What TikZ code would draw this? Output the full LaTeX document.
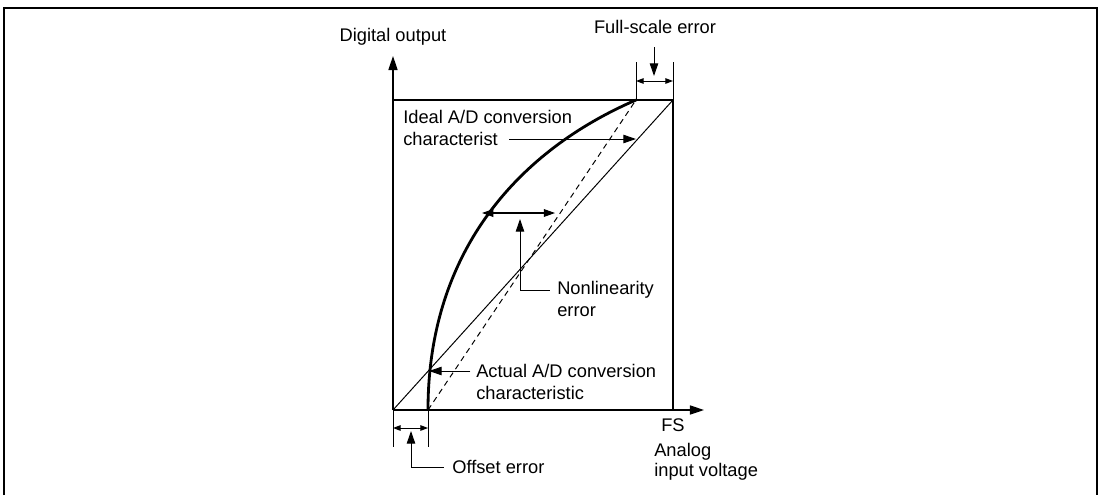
\documentclass[tikz,border=0pt]{standalone}
\usepackage{fontspec}
\setmainfont{Liberation Sans}
\usetikzlibrary{arrows.meta,positioning}

\tikzset{
  thickline/.style={line width=2pt},
  thinline/.style={line width=0.7pt},
  axisarrow/.style={line width=0.8pt,-{Triangle[length=10pt,width=6.5pt]}},
  bigdim/.style={line width=0.8pt,{Triangle[length=8pt,width=5.5pt]}-{Triangle[length=8pt,width=5.5pt]}},
  smalldim/.style={line width=0.7pt,{Triangle[length=5.5pt,width=4pt]}-{Triangle[length=5.5pt,width=4pt]}},
  leadarrow/.style={line width=0.7pt,-{Triangle[length=9pt,width=6pt]}},
  lbl/.style={inner sep=0pt,font=\fontsize{13}{15.6}\selectfont},
}

\begin{document}
\begin{tikzpicture}[x=0.025cm,y=-0.025cm]
\useasboundingbox (0,0) rectangle (1101,495);
% outer frame
\draw[line width=2pt] (4,495) -- (4,8) -- (1097,8) -- (1097,495);

% main points
\coordinate (O) at (393,410);
\coordinate (Ytip) at (393,56);
\coordinate (Xtip) at (704,410);
\coordinate (Ytop) at (393,100);
\coordinate (FStop) at (673,100);
\coordinate (FSbot) at (673,410);
\coordinate (Astart) at (428,410);
\coordinate (Aend) at (636,100);

% axes
\draw[axisarrow] (O) -- (Ytip);
\draw[axisarrow] (O) -- (Xtip);
\node[lbl] (yname) at (393,37) {Digital output};
\node[lbl] (fs) at (673,425) {FS};
\node[lbl,anchor=west] (xnameA) at (654,452) {Analog};
\node[lbl,anchor=west] (xnameB) at (654,472) {input voltage};

% full scale box
\draw[thickline] (Ytop) -- (FStop) -- (FSbot);

% characteristics
\draw[thinline] (O) -- (FStop);
\draw[thinline,dash pattern=on 4pt off 3pt] (Astart) -- (Aend);
\draw[thickline] (Astart) .. controls (428,250) and (520,150) .. (Aend);

% full-scale error
\coordinate (fsL) at (636,62);
\coordinate (fsR) at (673,62);
\draw[thinline] (Aend) -- (fsL);
\draw[thinline] (FStop) -- (fsR);
\draw[smalldim] (636,81) -- (673,81);
\node[lbl] (fserr) at (655,27) {Full-scale error};
\coordinate (fsarrow) at (654,76);
\draw[leadarrow] (fsarrow |- 0,47) -- (fsarrow);

% ideal label
\node[lbl,anchor=west] (idealA) at (403,117) {Ideal A/D conversion};
\node[lbl,anchor=west] (idealB) at (403,139) {characterist};
\draw[leadarrow] ([xshift=8pt]idealB.east) -- (idealB.east -| Aend);

% nonlinearity error
\coordinate (nlL) at (482,213);
\coordinate (nlR) at (555,213);
\draw[bigdim] (nlL) -- (nlR);
\node[lbl,anchor=west] (nlA) at (557,290) {Nonlinearity};
\node[lbl,anchor=west] (nlB) at (557,312) {error};
\coordinate (nlfoot) at (520,290);
\draw[leadarrow] ([xshift=-5pt]nlA.west) -- (nlfoot) -- (520,219);

% actual label
\node[lbl,anchor=west] (actA) at (476,371) {Actual A/D conversion};
\node[lbl,anchor=west] (actB) at (476,393) {characteristic};
\draw[leadarrow] ([xshift=-4pt]actA.west) -- (429,371);

% offset error
\coordinate (ofL) at (393,447);
\coordinate (ofR) at (428,447);
\draw[thinline] (O) -- (ofL);
\draw[thinline] (Astart) -- (ofR);
\draw[smalldim] (393,428) -- (428,428);
\node[lbl,anchor=west] (oferr) at (452,467) {Offset error};
\coordinate (offoot) at (411,467);
\draw[leadarrow] ([xshift=-6pt]oferr.west) -- (offoot) -- (411,431);
\end{tikzpicture}
\end{document}
